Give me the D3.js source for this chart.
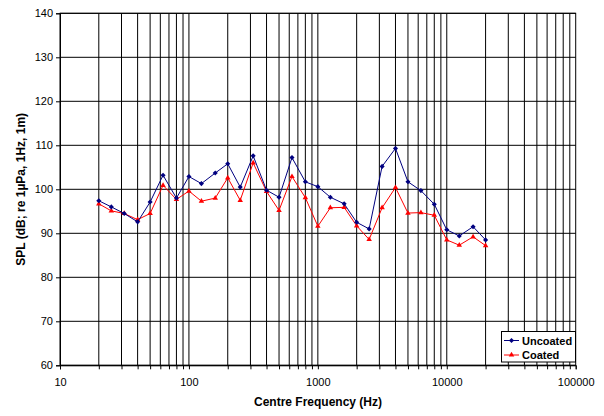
<!DOCTYPE html>
<html><head><meta charset="utf-8">
<script src="https://cdn.jsdelivr.net/npm/d3@7"></script>
<style>body{margin:0;background:#fff}svg{display:block}text{font-family:"Liberation Sans",Arial,sans-serif}</style>
</head><body><svg id="c" width="604" height="416"></svg>
<script>
const freqs = [20,25,31.5,40,50,63,80,100,125,160,200,250,315,400,500,630,800,1000,1250,1600,2000,2500,3150,4000,5000,6300,8000,10000,12500,16000,20000];
const uncoated = [97.4,96.0,94.5,92.6,97.1,103.2,98.0,102.9,101.3,103.7,105.8,100.5,107.6,99.8,98.2,107.2,101.7,100.6,98.2,96.7,92.5,91.0,105.2,109.3,101.7,99.7,96.6,90.8,89.4,91.5,88.5];
const coated = [96.7,95.1,94.5,93.1,94.5,100.9,97.7,99.6,97.3,98.0,102.6,97.5,106.0,99.5,95.2,102.9,98.1,91.6,95.8,95.9,91.7,88.6,95.8,100.4,94.6,94.7,94.1,88.5,87.3,89.2,87.2];
const yTicks = [60,70,80,90,100,110,120,130,140];
const xTicks = [10,100,1000,10000,100000];
const seriesNames = ["Uncoated","Coated"];

const svg = d3.select("#c");
const L=60, R=575.7, T=13.3, B=365.3;
const x = d3.scaleLog().domain([10,100000]).range([L,R]);
const y = d3.scaleLinear().domain([60,140]).range([B,T]);

const minor = [];
for (let d=10; d<100000; d*=10) for (let k=1;k<10;k++) minor.push(d*k);
minor.push(100000);

const g = svg.append("g");
g.selectAll(".vg").data(minor.filter(v=>v>10&&v<100000)).enter().append("line")
 .attr("x1",d=>x(d)).attr("x2",d=>x(d)).attr("y1",T).attr("y2",B)
 .attr("stroke","#000").attr("stroke-width",1);
g.selectAll(".hg").data(yTicks).enter().append("line")
 .attr("x1",L).attr("x2",R).attr("y1",d=>y(d)).attr("y2",d=>y(d))
 .attr("stroke","#000").attr("stroke-width",1);
g.append("rect").attr("x",L).attr("y",T).attr("width",R-L).attr("height",B-T)
 .attr("fill","none").attr("stroke","#000");

const ya = svg.append("g").attr("transform",`translate(${L},0)`)
 .call(d3.axisLeft(y).tickValues(yTicks).tickSize(4).tickPadding(3).tickFormat(d3.format("d")));
ya.select(".domain").attr("stroke","#000");
ya.selectAll("text").attr("font-size",11).attr("fill","#000");
const xa = svg.append("g").attr("transform",`translate(0,${B})`)
 .call(d3.axisBottom(x).tickValues(minor).tickSize(4).tickPadding(9).tickFormat(d=>xTicks.includes(d)?String(d):""));
xa.select(".domain").attr("stroke","#000");
xa.selectAll("text").attr("font-size",11).attr("fill","#000");

svg.append("text").attr("x",318).attr("y",406).attr("text-anchor","middle")
 .attr("font-size",12).attr("font-weight","bold").text("Centre Frequency (Hz)");
svg.append("text").attr("transform",`translate(25,${(T+B)/2}) rotate(-90)`).attr("text-anchor","middle")
 .attr("font-size",12).attr("font-weight","bold").text("SPL (dB; re 1µPa, 1Hz, 1m)");

const line = d3.line().x(d=>x(d[0])).y(d=>y(d[1]));
const series = [
 {name:seriesNames[0], vals:uncoated, color:"#000080", sym:d3.symbolSquare, size:13, rot:45},
 {name:seriesNames[1], vals:coated, color:"#FF0000", sym:d3.symbolTriangle, size:13, rot:0}
];
series.slice().reverse().forEach(s=>{
  const pts = freqs.map((f,i)=>[f,s.vals[i]]);
  svg.append("path").datum(pts).attr("d",line).attr("fill","none").attr("stroke",s.color).attr("stroke-width",1);
  svg.selectAll(null).data(pts).enter().append("path")
   .attr("d",d3.symbol().type(s.sym).size(s.size))
   .attr("transform",d=>`translate(${x(d[0])},${y(d[1])}) rotate(${s.rot})`).attr("fill",s.color);
});

const lg = svg.append("g");
lg.append("rect").attr("x",501.5).attr("y",331.5).attr("width",74).attr("height",30.5)
 .attr("fill","#fff").attr("stroke","#000");
series.forEach((s,i)=>{
  const yy = 340.5 + i*14.5;
  lg.append("line").attr("x1",504).attr("x2",519).attr("y1",yy).attr("y2",yy).attr("stroke",s.color);
  lg.append("path").attr("d",d3.symbol().type(s.sym).size(s.size)).attr("transform",`translate(511.5,${yy}) rotate(${s.rot})`).attr("fill",s.color);
  lg.append("text").attr("x",522).attr("y",yy+4).attr("font-size",11).attr("font-weight","bold").text(s.name);
});
</script></body></html>
